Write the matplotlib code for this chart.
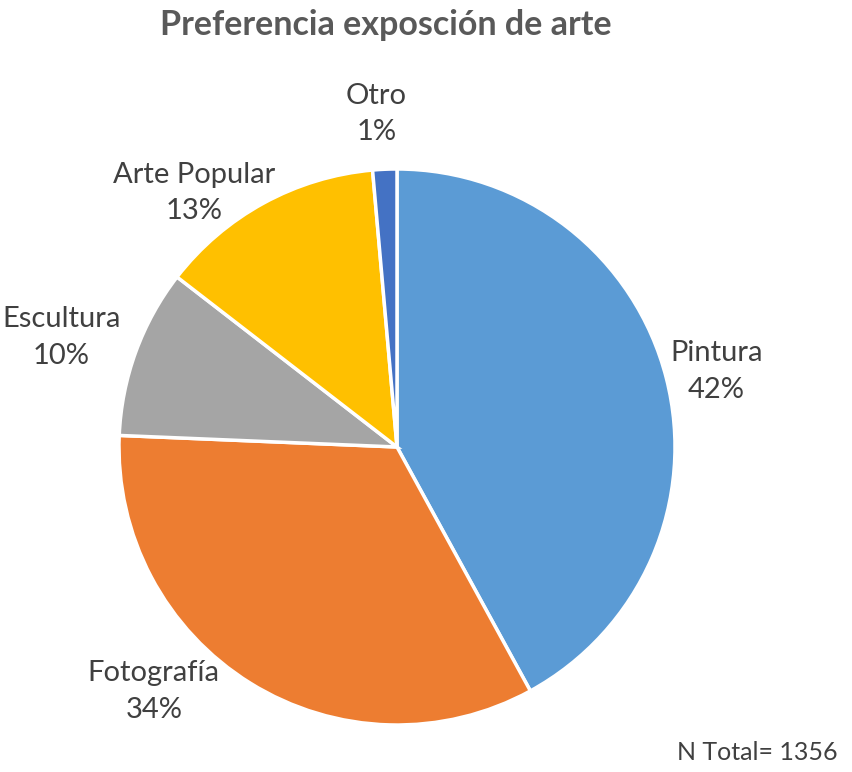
import matplotlib.pyplot as plt
import numpy as np

plt.rcParams["font.family"] = ["Lato", "DejaVu Sans"]

categories = ["Pintura", "Fotografía", "Escultura", "Arte Popular", "Otro"]
counts = [570, 456, 133, 178, 19]
total = 1356
colors = ["#5B9BD5", "#ED7D31", "#A5A5A5", "#FFC000", "#4472C4"]
title = "Preferencia exposción de arte"

# label placement: radial distance (pie radii) and angular shift (deg, clockwise)
label_dist = [1.18, 1.24, 1.27, 1.17, 1.2]
label_shift = [1, 13, -2, -10, -1]


def main() -> None:
    fig = plt.figure(figsize=(8.53, 7.72), dpi=100)
    W, H = 853, 772
    r_px = 278
    cx, cy = 397, 772 - 447
    a, b = 1.4, 1.15
    ax = fig.add_axes([(cx - a * r_px) / W, (cy - b * r_px) / H,
                       2 * a * r_px / W, 2 * b * r_px / H])

    pct = [100 * c / total for c in counts]
    labels = [f"{n}\n{p:.0f}%" for n, p in zip(categories, pct)]
    wedges, texts = ax.pie(
        counts,
        labels=labels,
        colors=colors,
        startangle=90,
        counterclock=False,
        wedgeprops=dict(edgecolor="white", linewidth=2.5),
        labeldistance=1.2,
        textprops=dict(fontsize=21, color="#404040"),
    )
    for w, t, d, s in zip(wedges, texts, label_dist, label_shift):
        ang = np.deg2rad((w.theta1 + w.theta2) / 2 - s)
        t.set_position((d * np.cos(ang), d * np.sin(ang)))
        t.set_ha("center")
        t.set_va("center")
        t.set_multialignment("center")
        t.set_linespacing(1.5)
    ax.set_xlim(-a, a)
    ax.set_ylim(-b, b)
    ax.set_aspect("equal")
    ax.axis("off")

    fig.text(386 / W, 1 - 25 / H, title, ha="center", va="center",
             fontsize=24.5, fontweight="bold", color="#595959")
    fig.text(838 / W, 1 - 752 / H, f"N Total= {total}", ha="right",
             va="center", fontsize=18, color="#404040")

    fig.savefig("out.png", dpi=100)


if __name__ == "__main__":
    main()
